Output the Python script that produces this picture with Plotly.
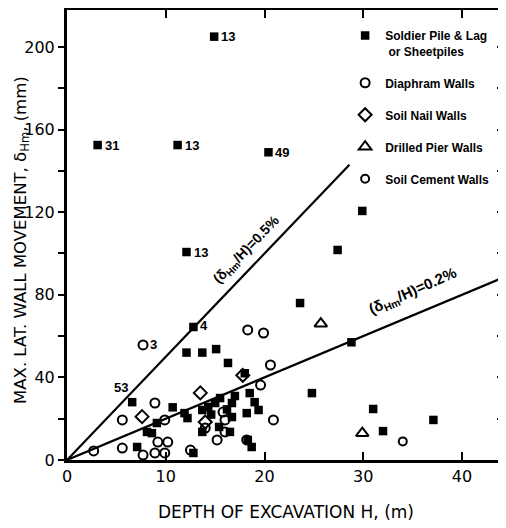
import plotly.graph_objects as go

# ---- data (H in m, delta in mm) ----
soldier_x = [14.9, 3.1, 11.2, 20.4, 12.1, 29.9, 27.4, 23.6, 28.8, 24.8, 31.0, 32.0, 37.1,
             12.8, 6.6, 12.1, 13.7, 15.1, 16.3, 18.0, 18.5, 19.0, 19.4, 18.2, 18.3, 18.7,
             10.7, 12.2, 13.7, 14.3, 15.0, 16.7, 16.7, 13.7, 16.5, 12.8, 8.1, 8.6, 9.1, 7.1,
             11.9, 15.5, 17.0, 14.6, 16.2, 15.4]
soldier_y = [205, 152.5, 152.5, 149, 100.7, 120.6, 101.7, 76, 57, 32.4, 24.7, 14, 19.4,
             64.4, 28, 52, 52, 53.7, 47, 42, 32.4, 28, 24.2, 22.7, 9.7, 6.3,
             25.5, 20.3, 24.2, 25.7, 27.6, 27.6, 20.8, 13.6, 13.6, 3.4, 13.6, 13, 17.9, 6.3,
             22.7, 30, 31, 22, 24.5, 16]

diaph_x = [7.7, 18.3, 19.9, 20.6, 19.6, 20.9, 5.6, 8.9, 9.9, 2.7, 5.6, 9.2, 10.2,
           7.7, 8.9, 9.9, 16.0, 15.8, 15.2, 16.0, 12.5, 18.2, 14.0]
diaph_y = [55.7, 63, 61.5, 46, 36.3, 19.4, 19.4, 27.6, 19.4, 4.4, 5.8, 8.7, 8.7,
           2.4, 3.4, 3.4, 19.4, 23.2, 9.7, 13.6, 4.8, 9.7, 15.5]

nail_x = [13.5, 7.6, 14.0, 17.8]
nail_y = [32.5, 21, 18.4, 41]

pier_x = [25.7, 29.9]
pier_y = [66, 13]

cement_x = [34.0]
cement_y = [9]

# ratio lines (delta_Hm / H)
line05_H = [0, 28.6]
line05_d = [0, 143]
line02_H = [0, 44.35]
line02_d = [0, 88.7]

# point labels
lab_x = [14.9, 3.1, 11.2, 20.4, 12.1, 12.8, 7.7]
lab_y = [205, 152.5, 152.5, 149, 100.7, 64.4, 55.7]
lab_t = ["13", "31", "13", "49", "13", "4", "3"]

FONT = "DejaVu Sans"
LFONT = "Liberation Sans"
fig = go.Figure()

fig.add_trace(go.Scatter(x=line05_H, y=line05_d, mode="lines",
                         line=dict(color="black", width=2.2), showlegend=False, hoverinfo="skip"))
fig.add_trace(go.Scatter(x=line02_H, y=line02_d, mode="lines",
                         line=dict(color="black", width=2.2), showlegend=False, hoverinfo="skip"))

fig.add_trace(go.Scatter(x=soldier_x, y=soldier_y, mode="markers", name="Soldier Pile & Lag<br> or Sheetpiles",
                         legendgroup="a",
                         marker=dict(symbol="square", size=8.5, color="black")))
fig.add_trace(go.Scatter(x=diaph_x, y=diaph_y, mode="markers", name="Diaphram Walls",
                         legendgroup="b",
                         marker=dict(symbol="circle-open", size=9, color="black", line=dict(width=2))))
fig.add_trace(go.Scatter(x=nail_x, y=nail_y, mode="markers", name="Soil Nail Walls",
                         legendgroup="c",
                         marker=dict(symbol="diamond-open", size=10, color="black", line=dict(width=2))))
fig.add_trace(go.Scatter(x=pier_x, y=pier_y, mode="markers", name="Drilled Pier Walls",
                         legendgroup="d",
                         marker=dict(symbol="triangle-up-open", size=11, color="black", line=dict(width=2))))
fig.add_trace(go.Scatter(x=cement_x, y=cement_y, mode="markers", name="Soil Cement Walls",
                         legendgroup="e",
                         marker=dict(symbol="circle-open", size=8, color="black", line=dict(width=2))))

# dummy trace for right-hand axis ticks
fig.add_trace(go.Scatter(x=[0], y=[0], yaxis="y2", mode="markers", marker=dict(opacity=0),
                         showlegend=False, hoverinfo="skip"))

for x, y, t in zip(lab_x, lab_y, lab_t):
    fig.add_annotation(x=x, y=y, text=t, showarrow=False, xanchor="left", xshift=5,
                       yshift=2 if t == "4" else 0,
                       font=dict(family=LFONT, size=13, color="black", weight="bold"))
fig.add_annotation(x=5.5, y=35, text="53", showarrow=False,
                   font=dict(family=LFONT, size=13, color="black", weight="bold"))

fig.add_annotation(x=18.2, y=101.5, text="(δ<sub>Hm</sub>/H)=0.5%", showarrow=False, textangle=-46,
                   font=dict(family=LFONT, size=14, color="black", weight="bold"))
fig.add_annotation(x=35.0, y=81.5, text="(δ<sub>Hm</sub>/H)=0.2%", showarrow=False, textangle=-24,
                   font=dict(family=LFONT, size=15, color="black", weight="bold"))

# y-axis title (as annotation, to keep it clear of the tick labels)
fig.add_annotation(xref="paper", yref="paper", x=-0.104, y=0.49, text="MAX. LAT. WALL MOVEMENT, δ<sub>Hm</sub>, (mm)",
                   showarrow=False, textangle=-90, xanchor="center", yanchor="middle",
                   font=dict(family=FONT, size=16.5, color="black"))

# page body has an 8px default margin: figure drawn from (8, 8)
fig.update_layout(
    width=498, height=520,
    margin=dict(l=59, r=1, t=2, b=68, autoexpand=False),
    paper_bgcolor="white", plot_bgcolor="white",
    font=dict(family=FONT, color="black"),
    xaxis=dict(range=[0, 44.35], tickvals=[0, 10, 20, 30, 40], ticks="inside", ticklen=8,
               tickwidth=2, tickcolor="black", showline=True, linecolor="black", linewidth=3,
               mirror="ticks", showgrid=False, zeroline=False, automargin=False,
               tickfont=dict(family=FONT, size=16),
               title=dict(text="DEPTH OF EXCAVATION H, (m)", font=dict(family=FONT, size=17), standoff=21)),
    yaxis=dict(range=[0, 217.9], tickvals=[0, 40, 80, 120, 160, 200], ticks="outside", ticklen=6,
               tickwidth=2, tickcolor="black", showline=True, linecolor="black", linewidth=3,
               showgrid=False, zeroline=False, automargin=False,
               minor=dict(dtick=20, ticks="outside", ticklen=6, tickwidth=2, tickcolor="black", showgrid=False),
               tickfont=dict(family=FONT, size=16)),
    yaxis2=dict(overlaying="y", side="right", range=[0, 217.9], dtick=20, ticks="inside", ticklen=8,
                tickwidth=2, tickcolor="black", showticklabels=False, showline=True, linecolor="black",
                linewidth=3, showgrid=False, zeroline=False, automargin=False),
    legend=dict(x=0.635, y=0.975, xanchor="left", yanchor="top", bgcolor="rgba(0,0,0,0)",
                font=dict(family=LFONT, size=12, color="black", weight="bold"), tracegroupgap=13,
                itemwidth=30, valign="top"),
)

fig.write_html("out.html")
